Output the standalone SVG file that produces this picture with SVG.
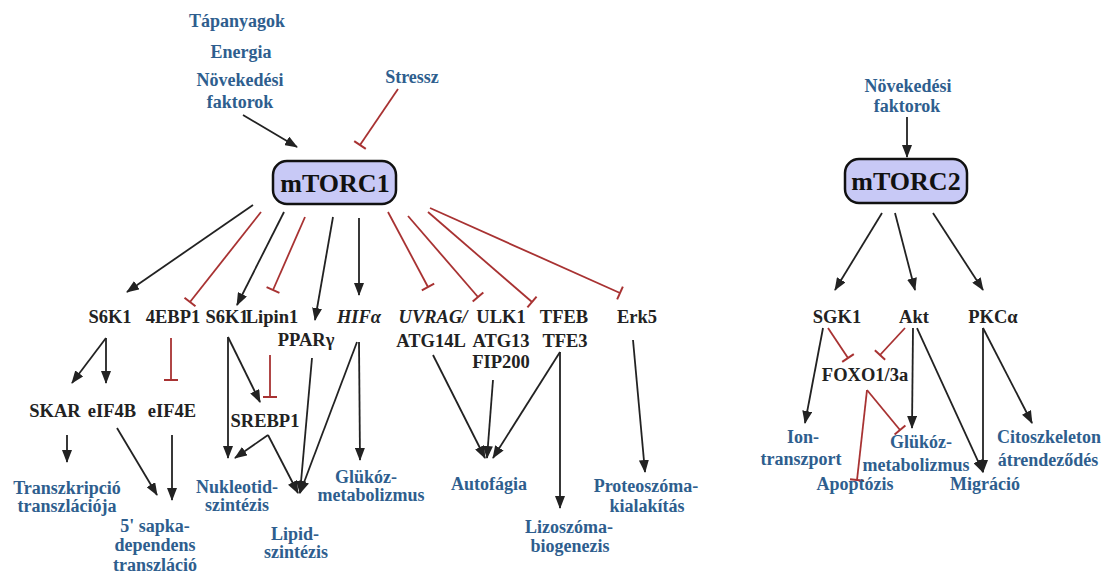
<svg xmlns="http://www.w3.org/2000/svg" width="1108" height="578" viewBox="0 0 1108 578">
<style>
text{font-family:"Liberation Serif","Times New Roman",serif;font-weight:bold;text-anchor:middle}
.b{fill:#2e5e8e;font-size:18px}
.k{fill:#222;font-size:18.5px}
.it{font-style:italic}
.hub{fill:#c8c9f6;stroke:#111;stroke-width:2.5}
.hubt{fill:#111;font-size:26px}
.a{stroke:#222;stroke-width:1.8;fill:none;marker-end:url(#ah)}
.i{stroke:#a83232;stroke-width:1.8;fill:none;marker-end:url(#tb)}
</style>
<defs>
<marker id="ah" markerUnits="userSpaceOnUse" markerWidth="13" markerHeight="10" refX="12" refY="5" orient="auto"><path d="M0,0 L13,5 L0,10 z" fill="#222"/></marker>
<marker id="tb" markerUnits="userSpaceOnUse" markerWidth="4" markerHeight="16" refX="2" refY="8" orient="auto"><path d="M2,1 V15" stroke="#a83232" stroke-width="2"/></marker>
</defs>
<rect width="1108" height="578" fill="#fff"/>
<g id="connectors">
<line class="a" x1="243" y1="115" x2="297" y2="147"/>
<line class="i" x1="398" y1="89" x2="360" y2="145"/>
<line class="a" x1="253" y1="205" x2="127" y2="292"/>
<line class="i" x1="261" y1="212" x2="190" y2="302"/>
<line class="a" x1="284" y1="212" x2="237" y2="305"/>
<line class="i" x1="305" y1="217" x2="273" y2="290"/>
<line class="a" x1="333" y1="217" x2="315" y2="320"/>
<line class="a" x1="359" y1="218" x2="359" y2="295"/>
<line class="i" x1="388" y1="212" x2="428" y2="287"/>
<line class="i" x1="408" y1="216" x2="478" y2="297"/>
<line class="i" x1="428" y1="212" x2="532" y2="302"/>
<line class="i" x1="430" y1="208" x2="620" y2="293"/>
<line class="a" x1="106" y1="338" x2="72" y2="383"/>
<line class="a" x1="106" y1="338" x2="106" y2="383"/>
<line class="i" x1="171" y1="338" x2="171" y2="380"/>
<line class="a" x1="67" y1="435" x2="67" y2="462"/>
<line class="a" x1="117" y1="428" x2="157" y2="495"/>
<line class="a" x1="172" y1="435" x2="172" y2="500"/>
<line class="a" x1="228" y1="337" x2="228" y2="458"/>
<line class="a" x1="228" y1="337" x2="260" y2="402"/>
<line class="i" x1="270" y1="355" x2="270" y2="397"/>
<line class="a" x1="268" y1="435" x2="235" y2="458"/>
<line class="a" x1="268" y1="435" x2="298" y2="493"/>
<line class="a" x1="312" y1="358" x2="300" y2="493"/>
<line class="a" x1="357" y1="342" x2="300" y2="493"/>
<line class="a" x1="359" y1="342" x2="360" y2="460"/>
<line class="a" x1="433" y1="355" x2="485" y2="458"/>
<line class="a" x1="493" y1="380" x2="487" y2="458"/>
<line class="a" x1="560" y1="352" x2="493" y2="458"/>
<line class="a" x1="560" y1="352" x2="560" y2="508"/>
<line class="a" x1="633" y1="340" x2="645" y2="472"/>
<line class="a" x1="907" y1="117" x2="907" y2="157"/>
<line class="a" x1="882" y1="213" x2="835" y2="290"/>
<line class="a" x1="895" y1="213" x2="915" y2="290"/>
<line class="a" x1="933" y1="213" x2="983" y2="290"/>
<line class="i" x1="828" y1="328" x2="848" y2="358"/>
<line class="i" x1="905" y1="328" x2="880" y2="355"/>
<line class="a" x1="823" y1="328" x2="805" y2="423"/>
<line class="i" x1="867" y1="390" x2="857" y2="480"/>
<line class="i" x1="867" y1="390" x2="900" y2="430"/>
<line class="a" x1="913" y1="328" x2="912" y2="428"/>
<line class="a" x1="917" y1="328" x2="983" y2="472"/>
<line class="a" x1="983" y1="328" x2="983" y2="472"/>
<line class="a" x1="983" y1="328" x2="1032" y2="423"/>
</g>
<g id="inputs1"><text class="b" x="237" y="27">Tápanyagok</text><text class="b" x="241" y="58">Energia</text><text class="b" x="240" y="86">Növekedési</text><text class="b" x="240" y="108">faktorok</text></g>
<g id="stressz"><text class="b" x="412" y="83">Stressz</text></g>
<g id="mTORC1"><rect class="hub" x="273" y="161" width="123" height="43" rx="14"/><text class="hubt" x="335" y="192">mTORC1</text></g>
<g id="s6k1a"><text class="k" x="110" y="323">S6K1</text></g>
<g id="4ebp1"><text class="k" x="173" y="323">4EBP1</text></g>
<g id="s6k1b"><text class="k" x="227" y="323">S6K1</text></g>
<g id="lipin1"><text class="k" x="272" y="323">Lipin1</text></g>
<g id="ppar"><text class="k" x="306" y="346">PPARγ</text></g>
<g id="hif"><text class="k it" x="359" y="323">HIFα</text></g>
<g id="uvrag"><text class="k" x="433" y="323"><tspan class="it">UVRAG/</tspan></text><text class="k" x="431" y="347">ATG14L</text></g>
<g id="ulk1"><text class="k" x="501" y="323">ULK1</text><text class="k" x="501" y="347">ATG13</text><text class="k" x="501" y="368">FIP200</text></g>
<g id="tfeb"><text class="k" x="564" y="323">TFEB</text><text class="k" x="565" y="347">TFE3</text></g>
<g id="erk5"><text class="k" x="637" y="323">Erk5</text></g>
<g id="skar"><text class="k" x="55" y="417">SKAR</text></g>
<g id="eif4b"><text class="k" x="112" y="417">eIF4B</text></g>
<g id="eif4e"><text class="k" x="172" y="417">eIF4E</text></g>
<g id="srebp1"><text class="k" x="265" y="427">SREBP1</text></g>
<g id="transzkripcio"><text class="b" x="67" y="494">Transzkripció</text><text class="b" x="67" y="512">transzlációja</text></g>
<g id="sapka"><text class="b" x="155" y="532">5' sapka-</text><text class="b" x="155" y="551">dependens</text><text class="b" x="155" y="571">transzláció</text></g>
<g id="nukleotid"><text class="b" x="237" y="493">Nukleotid-</text><text class="b" x="237" y="511">szintézis</text></g>
<g id="lipid"><text class="b" x="295" y="540">Lipid-</text><text class="b" x="296" y="558">szintézis</text></g>
<g id="glukoz1"><text class="b" x="366" y="483">Glükóz-</text><text class="b" x="371" y="501">metabolizmus</text></g>
<g id="autofagia"><text class="b" x="489" y="490">Autofágia</text></g>
<g id="lizoszoma"><text class="b" x="569" y="533">Lizoszóma-</text><text class="b" x="570" y="552">biogenezis</text></g>
<g id="proteoszoma"><text class="b" x="646" y="492">Proteoszóma-</text><text class="b" x="647" y="512">kialakítás</text></g>
<g id="inputs2"><text class="b" x="908" y="92">Növekedési</text><text class="b" x="907" y="112">faktorok</text></g>
<g id="mTORC2"><rect class="hub" x="845" y="159" width="122" height="44" rx="14"/><text class="hubt" x="906" y="190">mTORC2</text></g>
<g id="sgk1"><text class="k" x="837" y="323">SGK1</text></g>
<g id="akt"><text class="k" x="914" y="323">Akt</text></g>
<g id="pkca"><text class="k" x="993" y="323">PKCα</text></g>
<g id="foxo"><text class="k" x="865" y="381">FOXO1/3a</text></g>
<g id="ion"><text class="b" x="803" y="443">Ion-</text><text class="b" x="801" y="465">transzport</text></g>
<g id="glukoz2"><text class="b" x="921" y="448">Glükóz-</text><text class="b" x="916" y="471">metabolizmus</text></g>
<g id="apoptozis"><text class="b" x="855" y="490">Apoptózis</text></g>
<g id="migracio"><text class="b" x="985" y="490">Migráció</text></g>
<g id="citoszkeleton"><text class="b" x="1049" y="443">Citoszkeleton</text><text class="b" x="1048" y="466">átrendeződés</text></g>
</svg>
